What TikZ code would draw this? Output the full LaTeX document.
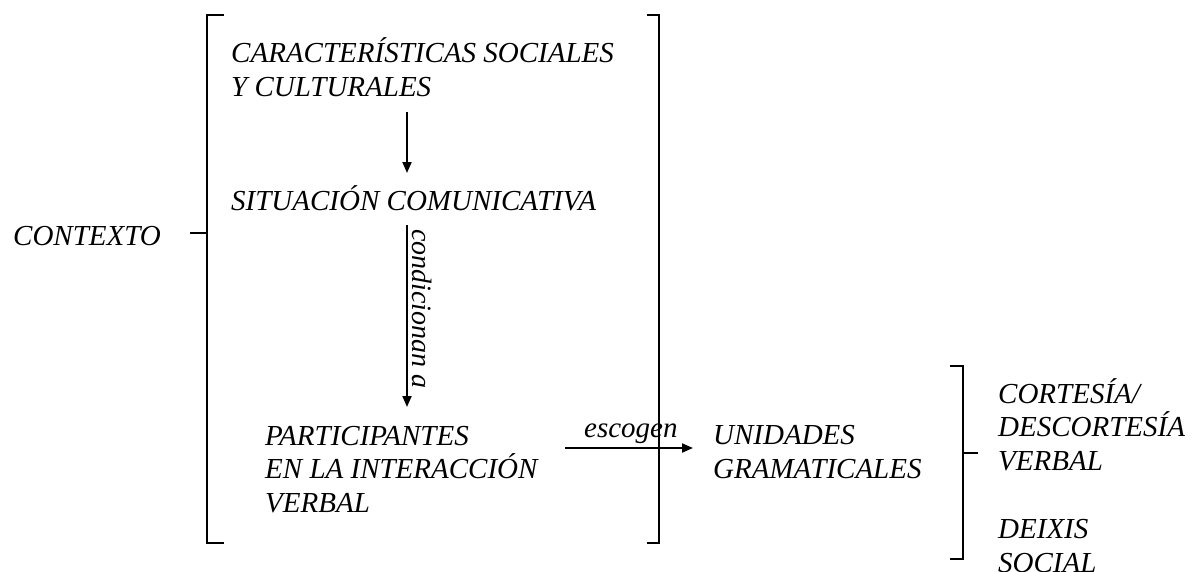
\documentclass[tikz,border=0pt]{standalone}
\usepackage{fontspec}
\setmainfont{Liberation Serif}
\usetikzlibrary{arrows.meta}
\begin{document}
\begin{tikzpicture}[x=1pt,y=-1pt,
  txt/.style={inner sep=0pt, anchor=base west, align=left,
    font=\fontsize{29}{33.5}\selectfont\itshape},
  brk/.style={line width=2pt},
  arr/.style={line width=2pt, -{Triangle[length=11pt,width=9pt]}}]
\useasboundingbox (0,0) rectangle (1192,571);
% texts (base anchor = baseline of last line)
\node[txt] (ctx) at (13,245) {CONTEXTO};
\node[txt] (car) at (231,96) {CARACTERÍSTICAS SOCIALES\\Y CULTURALES};
\node[txt] (sit) at (231,210) {SITUACIÓN COMUNICATIVA};
\node[txt] (part) at (265,512) {PARTICIPANTES\\EN LA INTERACCIÓN\\VERBAL};
\node[txt] (uni) at (713,478) {UNIDADES\\GRAMATICALES};
\node[txt] (cort) at (998,470) {CORTESÍA/\\DESCORTESÍA\\VERBAL};
\node[txt] (deix) at (998,572) {DEIXIS\\SOCIAL};
% big bracket
\coordinate (lt) at (224,15); \coordinate (lb) at (224,543);
\coordinate (rt) at (647,15); \coordinate (rb) at (647,543);
\draw[brk] (lt) -- (207,15) -- (207,543) -- (lb);
\draw[brk] (rt) -- (659,15) -- (659,543) -- (rb);
\coordinate (ctxtick) at (190,233);
\draw[brk] (ctxtick) -- (207,233);
% small bracket
\coordinate (st) at (950,366); \coordinate (sb) at (950,559);
\draw[brk] (st) -- (963,366) -- (963,559) -- (sb);
\coordinate (stick) at (978,453);
\draw[brk] (963,453) -- (stick);
% arrows
\coordinate (a1s) at (407,112); \coordinate (a1e) at (407,173);
\draw[arr] (a1s) -- (a1e);
\coordinate (a2s) at (407,225); \coordinate (a2e) at (407,407);
\draw[arr] (a2s) -- (a2e);
\node[txt, rotate=-90, font=\fontsize{28}{33}\selectfont\itshape] (cond) at (412,229) {condicionan a};
\coordinate (a3s) at (565,448); \coordinate (a3e) at (693,448);
\draw[arr] (a3s) -- (a3e);
\node[txt] (esc) at (584,437) {escogen};
\end{tikzpicture}
\end{document}
